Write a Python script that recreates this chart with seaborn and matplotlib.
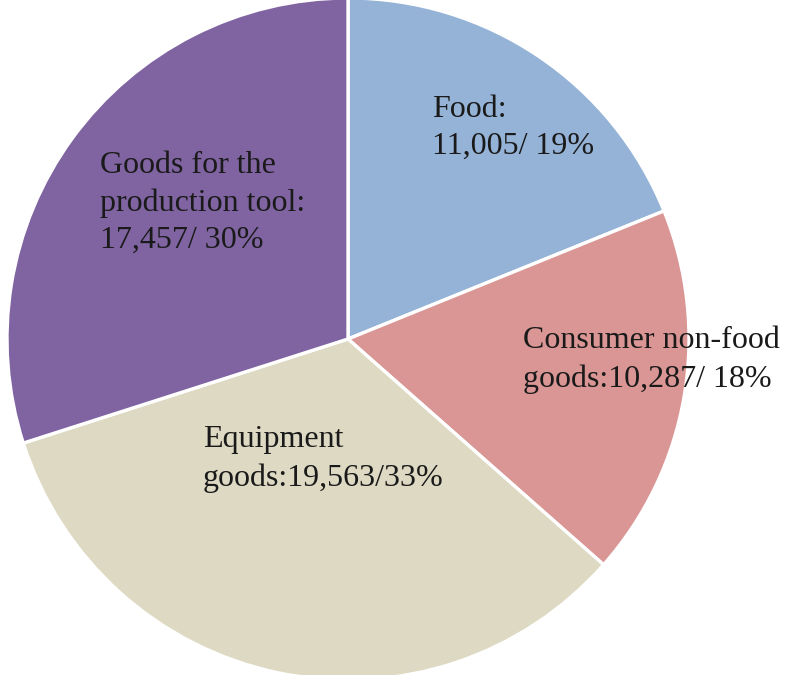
import matplotlib
matplotlib.use("Agg")
import matplotlib.pyplot as plt
import seaborn as sns

categories = ["Food", "Consumer non-food goods", "Equipment goods", "Goods for the production tool"]
values = [11005, 10287, 19563, 17457]
label_texts = [
    "Food:\n11,005/ 19%",
    "Consumer non-food\ngoods:10,287/ 18%",
    "Equipment\ngoods:19,563/33%",
    "Goods for the\nproduction tool:\n17,457/ 30%",
]
colors = ["#95B3D7", "#D99694", "#DDD9C3", "#8064A2"]

sns.set_theme(style="white")
plt.rcParams['font.family'] = ['Liberation Serif', 'DejaVu Serif']

W, H = 786, 675
fig = plt.figure(figsize=(W / 100, H / 100), dpi=100)
ax = fig.add_axes([0, 0, 1, 1])
ax.axis('off')

palette = sns.color_palette(colors)
ax.pie(values, colors=palette, startangle=90, counterclock=False,
       center=(348, H - 339), radius=341,
       wedgeprops=dict(edgecolor='white', linewidth=2.4))
ax.set_xlim(0, W)
ax.set_ylim(0, H)
ax.set_aspect('equal')

# label anchor positions (left x, vertical centre from top)
label_pos = [(432, 128), (523, 360), (203, 459), (100, 203)]
for txt, (x, y) in zip(label_texts, label_pos):
    ax.text(x, H - y, txt, ha='left', va='center', fontsize=23,
            linespacing=1.38, color='#1a1a1a')

fig.savefig("out.png", dpi=100)
